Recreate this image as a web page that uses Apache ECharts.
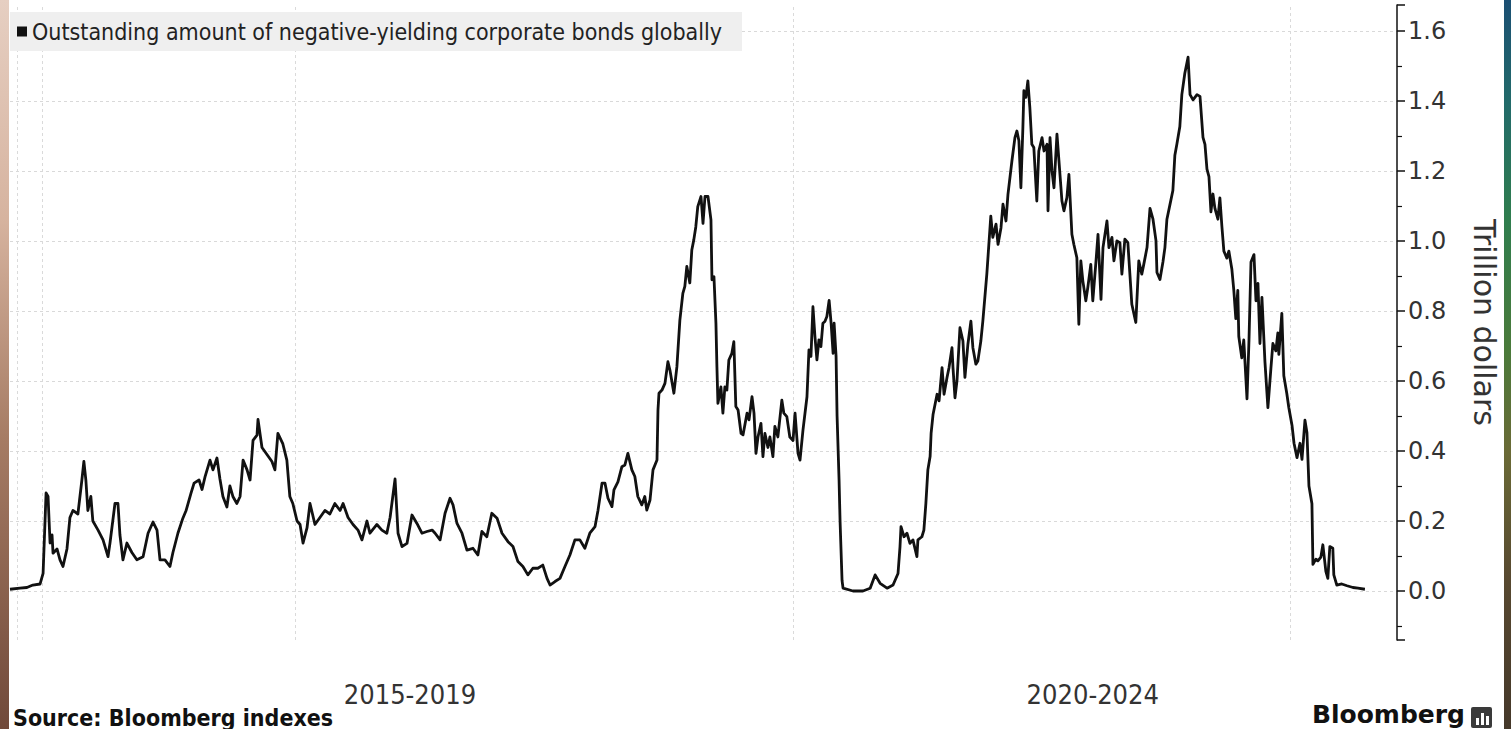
<!DOCTYPE html>
<html>
<head>
<meta charset="utf-8">
<script src="https://cdn.jsdelivr.net/npm/echarts@6/dist/echarts.min.js"></script>
<style>
  html, body { margin: 0; padding: 0; background: #fff; overflow: hidden; }
  #chart { position: absolute; left: 0; top: 0; width: 1511px; height: 729px; }
  .edge { position: absolute; top: 0; height: 729px; }
  #edgeL { left: 0; width: 9px; background: linear-gradient(180deg, #e6cfc2 0%, #d6b39f 30%, #a67c64 60%, #70493a 100%); }
  #edgeR { left: 1504px; width: 7px; background: linear-gradient(180deg, #1b4f73 0%, #226a6a 14%, #2f7d4e 30%, #4a7a3a 48%, #6a6a36 62%, #574830 80%, #45382a 100%); }
</style>
</head>
<body>
<div id="chart"></div>
<div class="edge" id="edgeL"></div>
<div class="edge" id="edgeR"></div>
<script>
// Weekly observations, dates as decimal years
const years = [
  2016.852, 2016.892, 2016.920, 2016.944, 2016.973, 2016.985, 2016.997, 2017.005, 2017.013, 2017.021,
  2017.025, 2017.041, 2017.053, 2017.065, 2017.081, 2017.093, 2017.105, 2017.125, 2017.141, 2017.149,
  2017.157, 2017.165, 2017.177, 2017.185, 2017.206, 2017.226, 2017.246, 2017.254, 2017.274, 2017.286,
  2017.294, 2017.306, 2017.322, 2017.342, 2017.362, 2017.387, 2017.407, 2017.427, 2017.443, 2017.455,
  2017.475, 2017.495, 2017.507, 2017.527, 2017.547, 2017.560, 2017.580, 2017.592, 2017.612, 2017.624,
  2017.636, 2017.656, 2017.668, 2017.684, 2017.696, 2017.708, 2017.724, 2017.736, 2017.748, 2017.764,
  2017.777, 2017.789, 2017.805, 2017.817, 2017.829, 2017.845, 2017.849, 2017.865, 2017.885, 2017.905,
  2017.917, 2017.929, 2017.949, 2017.965, 2017.977, 2017.989, 2018.006, 2018.018, 2018.030, 2018.046,
  2018.058, 2018.078, 2018.098, 2018.118, 2018.138, 2018.158, 2018.179, 2018.191, 2018.211, 2018.231,
  2018.251, 2018.267, 2018.287, 2018.299, 2018.327, 2018.347, 2018.367, 2018.380, 2018.400, 2018.412,
  2018.428, 2018.448, 2018.468, 2018.488, 2018.508, 2018.528, 2018.549, 2018.561, 2018.581, 2018.601,
  2018.621, 2018.633, 2018.649, 2018.669, 2018.689, 2018.713, 2018.733, 2018.749, 2018.769, 2018.789,
  2018.810, 2018.830, 2018.854, 2018.874, 2018.894, 2018.914, 2018.934, 2018.954, 2018.974, 2018.994,
  2019.011, 2019.023, 2019.043, 2019.063, 2019.083, 2019.103, 2019.123, 2019.143, 2019.163, 2019.183,
  2019.204, 2019.216, 2019.232, 2019.244, 2019.256, 2019.272, 2019.280, 2019.296, 2019.312, 2019.324,
  2019.336, 2019.352, 2019.364, 2019.376, 2019.392, 2019.404, 2019.412, 2019.425, 2019.437, 2019.453,
  2019.457, 2019.461, 2019.473, 2019.485, 2019.497, 2019.505, 2019.521, 2019.533, 2019.545, 2019.557,
  2019.565, 2019.573, 2019.585, 2019.593, 2019.601, 2019.609, 2019.617, 2019.630, 2019.638, 2019.646,
  2019.658, 2019.670, 2019.674, 2019.682, 2019.690, 2019.694, 2019.698, 2019.710, 2019.718, 2019.726,
  2019.734, 2019.742, 2019.754, 2019.762, 2019.770, 2019.779, 2019.791, 2019.799, 2019.815, 2019.823,
  2019.835, 2019.843, 2019.851, 2019.859, 2019.871, 2019.879, 2019.887, 2019.899, 2019.907, 2019.919,
  2019.927, 2019.939, 2019.955, 2019.963, 2019.975, 2019.987, 2020.000, 2020.008, 2020.020, 2020.028,
  2020.040, 2020.056, 2020.064, 2020.072, 2020.080, 2020.088, 2020.096, 2020.104, 2020.112, 2020.120,
  2020.128, 2020.136, 2020.145, 2020.153, 2020.161, 2020.165, 2020.173, 2020.177, 2020.185, 2020.189,
  2020.197, 2020.201, 2020.241, 2020.281, 2020.310, 2020.330, 2020.350, 2020.378, 2020.402, 2020.422,
  2020.430, 2020.434, 2020.446, 2020.458, 2020.470, 2020.482, 2020.498, 2020.502, 2020.518, 2020.526,
  2020.534, 2020.542, 2020.551, 2020.555, 2020.563, 2020.579, 2020.587, 2020.599, 2020.607, 2020.619,
  2020.627, 2020.639, 2020.643, 2020.651, 2020.659, 2020.671, 2020.683, 2020.691, 2020.703, 2020.715,
  2020.723, 2020.735, 2020.743, 2020.755, 2020.763, 2020.779, 2020.795, 2020.803, 2020.816, 2020.824,
  2020.836, 2020.844, 2020.856, 2020.864, 2020.880, 2020.892, 2020.900, 2020.908, 2020.916, 2020.924,
  2020.928, 2020.936, 2020.944, 2020.952, 2020.960, 2020.968, 2020.980, 2020.988, 2021.001, 2021.009,
  2021.021, 2021.025, 2021.033, 2021.041, 2021.049, 2021.061, 2021.069, 2021.081, 2021.089, 2021.101,
  2021.109, 2021.121, 2021.129, 2021.141, 2021.149, 2021.157, 2021.165, 2021.177, 2021.185, 2021.197,
  2021.205, 2021.218, 2021.226, 2021.238, 2021.246, 2021.262, 2021.270, 2021.282, 2021.290, 2021.302,
  2021.314, 2021.322, 2021.334, 2021.346, 2021.362, 2021.378, 2021.390, 2021.402, 2021.410, 2021.423,
  2021.435, 2021.447, 2021.459, 2021.463, 2021.475, 2021.487, 2021.495, 2021.503, 2021.515, 2021.527,
  2021.535, 2021.543, 2021.555, 2021.563, 2021.575, 2021.588, 2021.596, 2021.608, 2021.624, 2021.636,
  2021.648, 2021.656, 2021.664, 2021.672, 2021.680, 2021.688, 2021.696, 2021.708, 2021.716, 2021.724,
  2021.732, 2021.744, 2021.752, 2021.764, 2021.772, 2021.780, 2021.788, 2021.792, 2021.804, 2021.812,
  2021.825, 2021.833, 2021.841, 2021.853, 2021.861, 2021.869, 2021.877, 2021.885, 2021.897, 2021.909,
  2021.921, 2021.929, 2021.941, 2021.949, 2021.953, 2021.965, 2021.973, 2021.985, 2021.993, 2022.006,
  2022.014, 2022.026, 2022.038, 2022.046, 2022.058, 2022.066, 2022.074, 2022.086, 2022.090, 2022.102,
  2022.110, 2022.122, 2022.130, 2022.142, 2022.150, 2022.158, 2022.170, 2022.174, 2022.186, 2022.206,
  2022.227, 2022.251, 2022.271, 2022.299
];

// Outstanding amount, trillion dollars
const amounts = [
  0.005, 0.008, 0.010, 0.017, 0.020, 0.050, 0.280, 0.270, 0.137, 0.160,
  0.108, 0.120, 0.089, 0.070, 0.120, 0.210, 0.230, 0.220, 0.317, 0.370,
  0.317, 0.230, 0.270, 0.200, 0.174, 0.146, 0.098, 0.137, 0.250, 0.250,
  0.160, 0.089, 0.137, 0.110, 0.089, 0.098, 0.165, 0.197, 0.174, 0.089,
  0.089, 0.070, 0.110, 0.165, 0.208, 0.230, 0.280, 0.308, 0.317, 0.290,
  0.326, 0.374, 0.346, 0.380, 0.320, 0.270, 0.240, 0.300, 0.270, 0.250,
  0.270, 0.374, 0.346, 0.317, 0.430, 0.445, 0.490, 0.410, 0.390, 0.370,
  0.346, 0.450, 0.420, 0.374, 0.270, 0.250, 0.200, 0.190, 0.137, 0.180,
  0.250, 0.190, 0.210, 0.230, 0.220, 0.250, 0.230, 0.250, 0.210, 0.190,
  0.174, 0.146, 0.200, 0.165, 0.190, 0.174, 0.165, 0.210, 0.320, 0.165,
  0.127, 0.136, 0.217, 0.193, 0.165, 0.170, 0.174, 0.165, 0.146, 0.222,
  0.265, 0.246, 0.193, 0.165, 0.117, 0.122, 0.103, 0.170, 0.155, 0.222,
  0.208, 0.165, 0.141, 0.127, 0.084, 0.070, 0.046, 0.065, 0.065, 0.074,
  0.036, 0.017, 0.027, 0.036, 0.070, 0.103, 0.146, 0.146, 0.122, 0.165,
  0.184, 0.231, 0.308, 0.308, 0.265, 0.241, 0.289, 0.312, 0.355, 0.360,
  0.393, 0.346, 0.327, 0.270, 0.246, 0.270, 0.231, 0.260, 0.346, 0.374,
  0.517, 0.565, 0.574, 0.593, 0.655, 0.631, 0.565, 0.640, 0.774, 0.850,
  0.870, 0.927, 0.880, 0.974, 1.003, 1.040, 1.098, 1.127, 1.050, 1.127,
  1.127, 1.060, 0.889, 0.898, 0.765, 0.640, 0.536, 0.583, 0.508, 0.583,
  0.574, 0.660, 0.679, 0.712, 0.527, 0.517, 0.450, 0.446, 0.508, 0.489,
  0.555, 0.508, 0.393, 0.440, 0.479, 0.384, 0.450, 0.410, 0.440, 0.384,
  0.470, 0.440, 0.545, 0.508, 0.498, 0.440, 0.430, 0.508, 0.393, 0.374,
  0.460, 0.555, 0.689, 0.670, 0.812, 0.727, 0.660, 0.717, 0.698, 0.765,
  0.770, 0.784, 0.830, 0.765, 0.679, 0.765, 0.670, 0.500, 0.317, 0.200,
  0.030, 0.008, 0.000, 0.000, 0.008, 0.046, 0.022, 0.008, 0.017, 0.050,
  0.127, 0.184, 0.155, 0.165, 0.136, 0.146, 0.098, 0.146, 0.155, 0.174,
  0.250, 0.346, 0.384, 0.450, 0.505, 0.562, 0.543, 0.638, 0.562, 0.610,
  0.638, 0.695, 0.638, 0.552, 0.600, 0.752, 0.714, 0.610, 0.705, 0.771,
  0.695, 0.648, 0.657, 0.714, 0.771, 0.905, 1.071, 1.010, 1.048, 0.990,
  1.038, 1.105, 1.057, 1.133, 1.229, 1.295, 1.314, 1.286, 1.152, 1.324,
  1.429, 1.410, 1.457, 1.381, 1.276, 1.267, 1.114, 1.257, 1.295, 1.257,
  1.276, 1.086, 1.295, 1.200, 1.152, 1.305, 1.229, 1.114, 1.086, 1.124,
  1.190, 1.019, 0.990, 0.952, 0.762, 0.943, 0.886, 0.829, 0.867, 0.933,
  0.829, 0.943, 1.019, 0.833, 0.981, 1.057, 0.981, 1.010, 0.943, 1.000,
  0.995, 0.905, 1.005, 0.995, 0.819, 0.767, 0.943, 0.905, 0.933, 0.981,
  1.093, 1.062, 1.001, 0.910, 0.890, 0.940, 0.981, 1.062, 1.103, 1.144,
  1.245, 1.276, 1.327, 1.418, 1.479, 1.525, 1.418, 1.403, 1.418, 1.413,
  1.296, 1.276, 1.205, 1.184, 1.083, 1.134, 1.093, 1.062, 1.123, 1.042,
  0.971, 0.951, 0.971, 0.920, 0.859, 0.778, 0.859, 0.727, 0.666, 0.717,
  0.549, 0.717, 0.940, 0.961, 0.829, 0.879, 0.707, 0.839, 0.656, 0.524,
  0.635, 0.707, 0.686, 0.737, 0.676, 0.793, 0.615, 0.564, 0.524, 0.473,
  0.422, 0.381, 0.422, 0.376, 0.488, 0.452, 0.300, 0.249, 0.076, 0.091,
  0.086, 0.097, 0.132, 0.056, 0.036, 0.127, 0.122, 0.046, 0.017, 0.020,
  0.015, 0.010, 0.008, 0.005
];

const seriesName = 'Outstanding amount of negative-yielding corporate bonds globally';
const axisTitle = 'Trillion dollars';
const periodLabels = ['2015-2019', '2020-2024'];
const periodCentres = [2018.46, 2021.205];
const gridYears = [2016.88, 2016.98, 2018, 2020, 2022];
const sourceNote = 'Source: Bloomberg indexes';
const brand = 'Bloomberg';

const condensed = "'DejaVu Sans Condensed', 'DejaVu Sans', sans-serif";
const regular = "'DejaVu Sans', sans-serif";

const chart = echarts.init(document.getElementById('chart'), null, { renderer: 'svg' });

const option = {
  animation: false,
  backgroundColor: '#ffffff',
  grid: { left: 10, right: 114, top: 5, bottom: 89, containLabel: false, outerBoundsMode: 'none' },
  legend: {
    left: 10, top: 12,
    backgroundColor: '#efefef',
    padding: [8, 20, 8, 7],
    icon: 'rect', itemWidth: 10, itemHeight: 10,
    selectedMode: false,
    textStyle: { fontSize: 23, color: '#222', fontFamily: condensed },
    data: [seriesName]
  },
  xAxis: {
    type: 'value',
    min: 2016.852, max: 2022.428,
    axisLine: { show: false }, axisTick: { show: false },
    axisLabel: { show: false }, splitLine: { show: false }
  },
  yAxis: {
    type: 'value', position: 'right',
    min: -0.14, max: 1.674, splitNumber: 9,
    axisLine: { show: true, lineStyle: { color: '#111', width: 1.5 } },
    axisTick: { show: true, length: 8, lineStyle: { color: '#111', width: 1.5 } },
    minorTick: { show: true, splitNumber: 2, length: 5, lineStyle: { color: '#111', width: 1.2 } },
    axisLabel: {
      showMinLabel: false, showMaxLabel: false, margin: 11,
      fontSize: 24, color: '#333', fontFamily: regular,
      formatter: v => v.toFixed(1)
    },
    splitLine: {
      show: true, showMinLine: false, showMaxLine: false,
      lineStyle: { color: '#d9d9d9', type: [3, 3], width: 1 }
    },
    name: axisTitle, nameLocation: 'middle', nameRotate: -90, nameGap: 72,
    nameTextStyle: { fontSize: 30, color: '#333', fontFamily: regular }
  },
  series: [{
    name: seriesName,
    type: 'line',
    showSymbol: false,
    symbol: 'none',
    data: years.map((y, i) => [y, amounts[i]]),
    lineStyle: { color: '#111', width: 2.8, join: 'round' },
    itemStyle: { color: '#111' },
    z: 3,
    markLine: {
      silent: true, symbol: 'none', z: 1,
      label: { show: false },
      lineStyle: { color: '#dadada', type: [3, 3], width: 1 },
      data: gridYears.map(y => ({ xAxis: y }))
    }
  }]
};

chart.setOption(option);

// Period captions under the plot, placed at their dates
const bottomY = 694;
const captions = periodLabels.map((t, i) => ({
  type: 'text',
  x: chart.convertToPixel({ xAxisIndex: 0 }, periodCentres[i]),
  y: bottomY,
  style: { text: t, fontSize: 27, fontFamily: condensed, fill: '#333', textAlign: 'center', textVerticalAlign: 'middle' }
}));

chart.setOption({
  graphic: captions.concat([
    {
      type: 'text', x: 13, y: 706,
      style: { text: sourceNote, fontSize: 23, fontWeight: 'bold', fontFamily: condensed, fill: '#111', textAlign: 'left', textVerticalAlign: 'top' }
    },
    {
      type: 'text', x: 1465, y: 702,
      style: { text: brand, fontSize: 25, fontWeight: 'bold', fontFamily: regular, fill: '#111', textAlign: 'right', textVerticalAlign: 'top' }
    },
    { type: 'rect', shape: { x: 1471, y: 707, width: 21, height: 21, r: 2 }, style: { fill: '#3a3a3a' } },
    { type: 'rect', shape: { x: 1476, y: 718, width: 3, height: 7 }, style: { fill: '#fff' } },
    { type: 'rect', shape: { x: 1481, y: 713, width: 3, height: 12 }, style: { fill: '#fff' } },
    { type: 'rect', shape: { x: 1486, y: 716, width: 3, height: 9 }, style: { fill: '#fff' } }
  ])
});
</script>
</body>
</html>
